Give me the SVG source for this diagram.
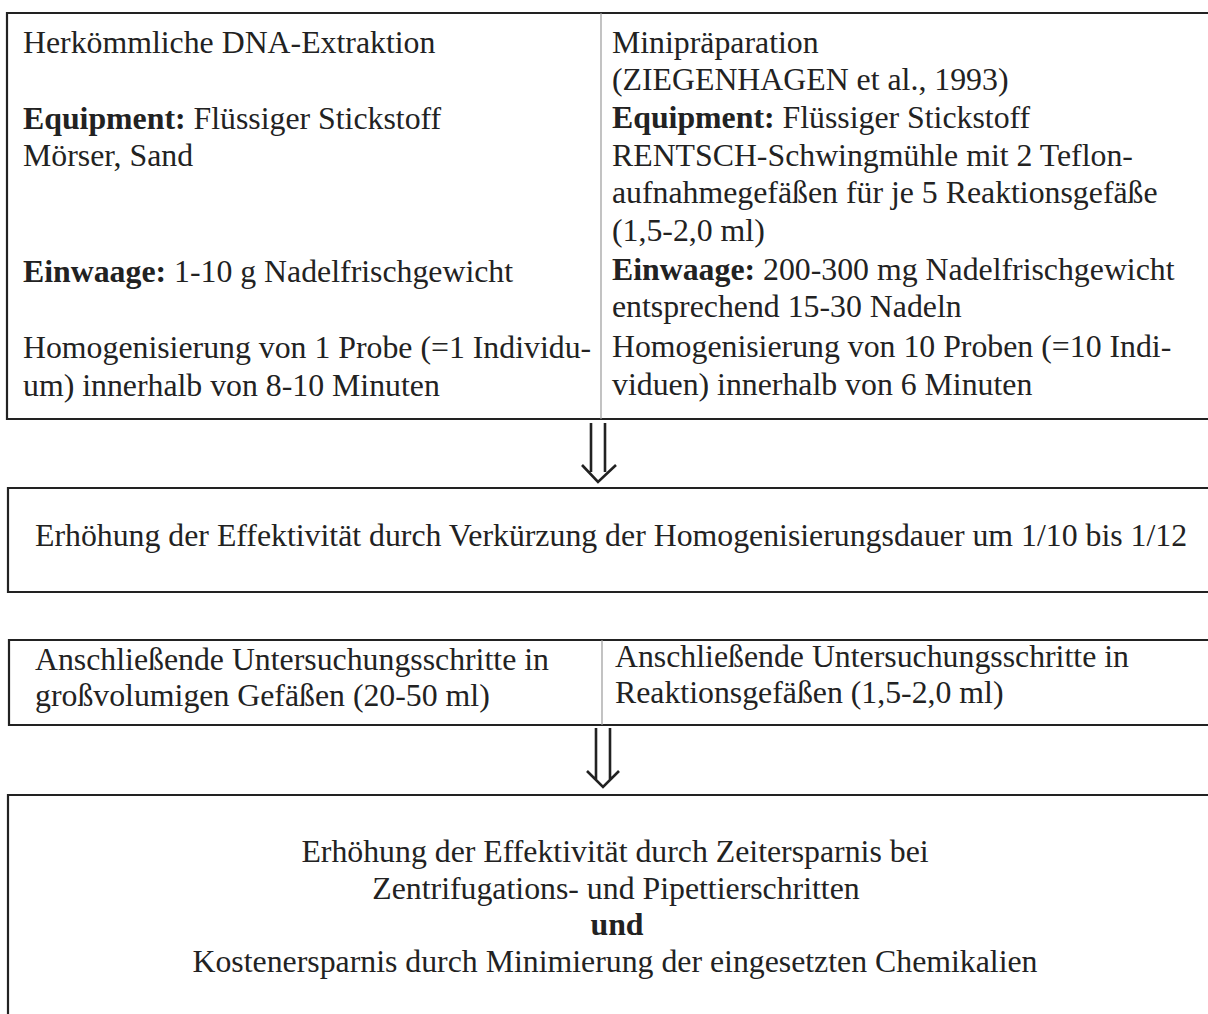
<svg xmlns="http://www.w3.org/2000/svg" width="1208" height="1014" viewBox="0 0 1208 1014">
<style>
text{font-family:"Liberation Serif","Times New Roman",serif;font-size:31.8px;fill:#222}
.b{font-weight:bold}
.c{text-anchor:middle}
.box{fill:none;stroke:#222;stroke-width:2.2}
.div{stroke:#9a9a9a;stroke-width:1.2}
.arr{fill:none;stroke:#222;stroke-width:2.6}
</style>
<rect width="1208" height="1014" fill="#fff"/>
<g id="n1">
<path class="box" d="M1212,13 H7 V419 H1212"/>
<line class="div" x1="601" y1="13" x2="601" y2="419"/>
<text x="23" y="53">Herkömmliche DNA-Extraktion</text>
<text x="23" y="129"><tspan class="b">Equipment:</tspan> Flüssiger Stickstoff</text>
<text x="23" y="166">Mörser, Sand</text>
<text x="23" y="282"><tspan class="b">Einwaage:</tspan> 1-10 g Nadelfrischgewicht</text>
<text x="23" y="358">Homogenisierung von 1 Probe (=1 Individu-</text>
<text x="23" y="396">um) innerhalb von 8-10 Minuten</text>
<text x="612" y="53">Minipräparation</text>
<text x="612" y="90">(ZIEGENHAGEN et al., 1993)</text>
<text x="612" y="128"><tspan class="b">Equipment:</tspan> Flüssiger Stickstoff</text>
<text x="612" y="166">RENTSCH-Schwingmühle mit 2 Teflon-</text>
<text x="612" y="203">aufnahmegefäßen für je 5 Reaktionsgefäße</text>
<text x="612" y="241">(1,5-2,0 ml)</text>
<text x="612" y="280"><tspan class="b">Einwaage:</tspan> 200-300 mg Nadelfrischgewicht</text>
<text x="612" y="317">entsprechend 15-30 Nadeln</text>
<text x="612" y="357">Homogenisierung von 10 Proben (=10 Indi-</text>
<text x="612" y="395">viduen) innerhalb von 6 Minuten</text>
</g>
<g id="n2">
<path class="box" d="M1212,488 H8 V592 H1212"/>
<text x="35" y="546">Erhöhung der Effektivität durch Verkürzung der Homogenisierungsdauer um 1/10 bis 1/12</text>
</g>
<g id="n3">
<path class="box" d="M1212,640 H9 V725 H1212"/>
<line class="div" x1="602" y1="640" x2="602" y2="725"/>
<text x="35" y="670">Anschließende Untersuchungsschritte in</text>
<text x="35" y="706">großvolumigen Gefäßen (20-50 ml)</text>
<text x="615" y="667">Anschließende Untersuchungsschritte in</text>
<text x="615" y="703">Reaktionsgefäßen (1,5-2,0 ml)</text>
</g>
<g id="n4">
<path class="box" d="M1212,795 H8 V1020"/>
<text class="c" x="615" y="862">Erhöhung der Effektivität durch Zeitersparnis bei</text>
<text class="c" x="616" y="899">Zentrifugations- und Pipettierschritten</text>
<text class="c b" x="617" y="935">und</text>
<text class="c" x="615" y="972">Kostenersparnis durch Minimierung der eingesetzten Chemikalien</text>
</g>
<g id="connectors">
<path class="arr" d="M591,423 V472 M605,423 V472 M582,465 L598,482 L616,465"/>
<path class="arr" d="M596,728 V780 M610,728 V780 M587,771 L603,787 L619,771"/>
</g>
</svg>
